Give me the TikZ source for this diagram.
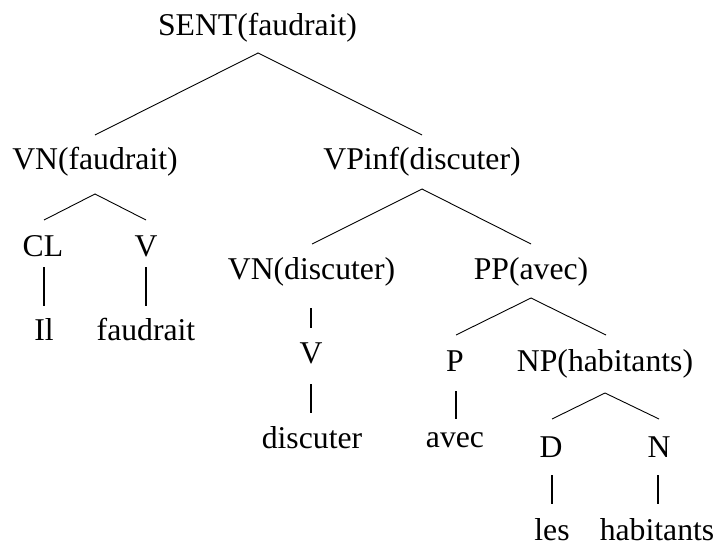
\documentclass[tikz,border=0pt]{standalone}
\usepackage{fontspec}
\setmainfont{Liberation Serif}
\usetikzlibrary{calc}
\begin{document}
\begin{tikzpicture}[x=1pt,y=-1pt,
  lbl/.style={anchor=base,inner sep=0pt,text depth=0pt,font=\fontsize{31.7}{38}\selectfont},
  branch/.style={line width=0.9pt},
  stem/.style={line width=2.6pt}]
\useasboundingbox (0,0) rectangle (719,545);
% constituent labels, placed on their baselines
\node[lbl] (sent)  at (257.5,36) {SENT(faudrait)};
\node[lbl] (vnf)   at (95,170)   {VN(faudrait)};
\node[lbl] (vpinf) at (422,170)  {VPinf(discuter)};
\node[lbl] (cl)    at (43,256)   {CL};
\node[lbl] (vf)    at (146,256)  {V};
\node[lbl] (il)    at (44,340)   {Il};
\node[lbl] (faud)  at (146,340)  {faudrait};
\node[lbl] (vnd)   at (311.5,279) {VN(discuter)};
\node[lbl] (pp)    at (531,279)  {PP(avec)};
\node[lbl] (vd)    at (311,363)  {V};
\node[lbl] (disc)  at (312,448)  {discuter};
\node[lbl] (p)     at (455,371)  {P};
\node[lbl] (np)    at (605,371)  {NP(habitants)};
\node[lbl] (avec)  at (455,447)  {avec};
\node[lbl] (d)     at (551,457)  {D};
\node[lbl] (n)     at (659,457)  {N};
\node[lbl] (les)   at (552,540)  {les};
\node[lbl] (hab)   at (657,540)  {habitants};
% branching edges
\draw[branch] ($(vnf.base)+(0,-35)$) -- ($(sent.base)+(0.5,17)$) -- ($(vpinf.base)+(0,-35)$);
\draw[branch] ($(cl.base)+(1,-36)$) -- ($(vnf.base)+(0,24)$) -- ($(vf.base)+(0,-36)$);
\draw[branch] ($(vnd.base)+(0.5,-35)$) -- ($(vpinf.base)+(0,19)$) -- ($(pp.base)+(0,-35)$);
\draw[branch] ($(p.base)+(1,-36)$) -- ($(pp.base)+(0,19)$) -- ($(np.base)+(1,-36)$);
\draw[branch] ($(d.base)+(1,-38)$) -- ($(np.base)+(0,22)$) -- ($(n.base)+(0,-38)$);
% unary edges
\draw[stem] ($(cl.base)+(1,11)$) -- ($(il.base)+(0,-34)$);
\draw[stem] ($(vf.base)+(0,11)$) -- ($(faud.base)+(0,-34)$);
\draw[stem] ($(vnd.base)+(-0.5,29)$) -- ($(vd.base)+(0,-35)$);
\draw[stem] ($(vd.base)+(0,21)$) -- ($(disc.base)+(-1,-35)$);
\draw[stem] ($(p.base)+(1,20)$) -- ($(avec.base)+(1,-28)$);
\draw[stem] ($(d.base)+(1,18)$) -- ($(les.base)+(0,-36)$);
\draw[stem] ($(n.base)+(-1,18)$) -- ($(hab.base)+(1,-36)$);
\end{tikzpicture}
\end{document}
